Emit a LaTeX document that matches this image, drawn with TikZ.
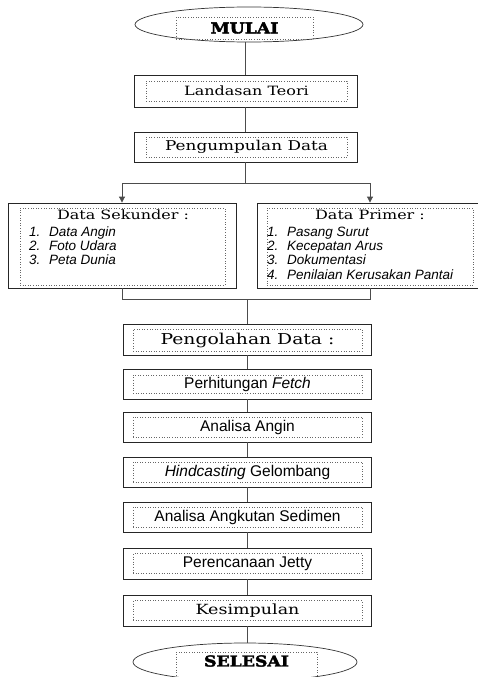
\documentclass[tikz,border=0pt]{standalone}
\usepackage{fontspec}
\setmainfont{DejaVu Serif}
\newfontfamily\bk[FakeStretch=1.25]{DejaVu Serif}
\newfontfamily\bkb[FakeStretch=1.15,FakeBold=2.5]{DejaVu Serif}
\newfontfamily\hv{Liberation Sans}
\usetikzlibrary{shapes.geometric,arrows.meta,calc}
\begin{document}
\begin{tikzpicture}[x=1pt,y=-1pt,
  outer/.style={draw=black!85,line width=0.85pt,rectangle,inner sep=0pt},
  inner/.style={draw=black!60,dotted,line width=0.6pt,rectangle,inner sep=0pt},
  oval/.style={ellipse,draw=black!80,line width=0.7pt,inner sep=0pt},
  conn/.style={draw=black!70,line width=0.85pt},
  arr/.style={conn,-{Triangle[length=6pt,width=6pt]}},
  sertxt/.style={font=\bk\fontsize{12.8}{15}\selectfont},
  bigser/.style={font=\bk\fontsize{15}{18}\selectfont},
  boldtxt/.style={font=\bkb\bfseries\fontsize{15}{18}\selectfont},
  santxt/.style={font=\hv\fontsize{15.5}{18}\selectfont},
  itemtxt/.style={font=\hv\itshape\fontsize{13.5}{14.2}\selectfont,inner sep=0pt},
  lowout/.style={outer,minimum width=248pt,minimum height=30pt},
  lowin/.style={inner,minimum width=229pt,minimum height=20pt}]
\useasboundingbox (0,0) rectangle (478,677);
\fill[white] (0,0) rectangle (478,677);

% start
\node[oval,minimum width=228pt,minimum height=35pt] (mulai) at (249,24.5) {};
\node[inner,minimum width=137pt,minimum height=22pt,boldtxt] (mulaiT) at (244.5,28) {MULAI};

% upper boxes
\node[outer,minimum width=223pt,minimum height=32pt] (landasan) at (245.5,91) {};
\node[inner,minimum width=201pt,minimum height=20pt,sertxt] (landasanT) at (246.5,91) {Landasan Teori};
\node[outer,minimum width=223pt,minimum height=30pt] (kumpul) at (245.5,147) {};
\node[inner,minimum width=201pt,minimum height=20pt,sertxt,font=\bk\fontsize{13.5}{15}\selectfont] (kumpulT) at (246.5,147) {Pengumpulan Data};

% data boxes
\node[outer,minimum width=228pt,minimum height=85pt] (sek) at (122,245.5) {};
\node[inner,minimum width=205pt,minimum height=77pt] (sekI) at (122.5,246.5) {};
\node[sertxt,anchor=base,inner sep=0pt] (sekT) at (123,219) {Data Sekunder :};
\node[itemtxt,anchor=base west] (sekL) at (29,236.5)
  {\begin{tabular}[t]{@{}p{20pt}@{}l@{}}1. & Data Angin\\ 2. & Foto Udara\\ 3. & Peta Dunia\end{tabular}};

\node[outer,minimum width=226pt,minimum height=85pt] (prim) at (370,245.5) {};
\node[inner,minimum width=206pt,minimum height=77pt] (primI) at (370,246.5) {};
\node[sertxt,anchor=base,inner sep=0pt] (primT) at (370,219) {Data Primer :};
\node[itemtxt,anchor=base west] (primL) at (267,236.5)
  {\begin{tabular}[t]{@{}p{20pt}@{}l@{}}1. & Pasang Surut\\ 2. & Kecepatan Arus\\ 3. & Dokumentasi\\ 4. & Penilaian Kerusakan Pantai\end{tabular}};

% lower boxes
\node[lowout,minimum height=31pt] (olah) at (247,339.5) {};
\node[lowin,minimum height=22pt,bigser] (olahT) at (247.5,340) {Pengolahan Data :};
\node[lowout] (hitung) at (247,384) {};
\node[lowin,minimum height=18pt,santxt] (hitungT) at (247.5,384) {Perhitungan \textit{Fetch}};
\node[lowout] (angin) at (247,427) {};
\node[lowin,santxt] (anginT) at (247.5,427) {Analisa Angin};
\node[lowout] (hind) at (247,472) {};
\node[lowin,santxt] (hindT) at (247.5,472) {\textit{Hindcasting} Gelombang};
\node[lowout] (sedimen) at (247,517) {};
\node[lowin,santxt] (sedimenT) at (247.5,517) {Analisa Angkutan Sedimen};
\node[lowout,minimum height=31pt] (jetty) at (247,563.5) {};
\node[lowin,santxt] (jettyT) at (247.5,563.5) {Perencanaan Jetty};
\node[lowout,minimum height=31pt] (kesim) at (247,610.5) {};
\node[lowin,sertxt,font=\bk\fontsize{14}{16}\selectfont] (kesimT) at (247.5,610.5) {Kesimpulan};

% end
\node[oval,minimum width=224pt,minimum height=38pt] (selesai) at (245,662) {};
\node[inner,minimum width=141pt,minimum height=28pt] (selesaiI) at (246.5,666) {};
\node[boldtxt,inner sep=0pt] (selesaiT) at (246.5,661) {SELESAI};

% connectors
\draw[conn] (landasan.north |- mulai.south) -- (landasan.north);
\draw[conn] (landasan) -- (kumpul);
\coordinate (br) at ($(kumpul.south)+(0,21)$);
\draw[conn] (kumpul.south) -- (br);
\draw[conn] (sek.north |- br) -- (prim.north |- br);
\draw[arr] (sek.north |- br) -- (sek.north);
\draw[arr] (prim.north |- br) -- (prim.north);
\coordinate (mg) at ($(olah.north)+(0,-24)$);
\draw[conn] (sek.south) -- (sek.south |- mg) -- (prim.south |- mg) -- (prim.south);
\draw[conn] (mg) -- (olah.north);
\draw[conn] (olah) -- (hitung);
\draw[conn] (hitung) -- (angin);
\draw[conn] (angin) -- (hind);
\draw[conn] (hind) -- (sedimen);
\draw[conn] (sedimen) -- (jetty);
\draw[conn] (jetty) -- (kesim);
\draw[conn] (kesim.south) -- (kesim.south |- selesai.north);
\end{tikzpicture}
\end{document}
